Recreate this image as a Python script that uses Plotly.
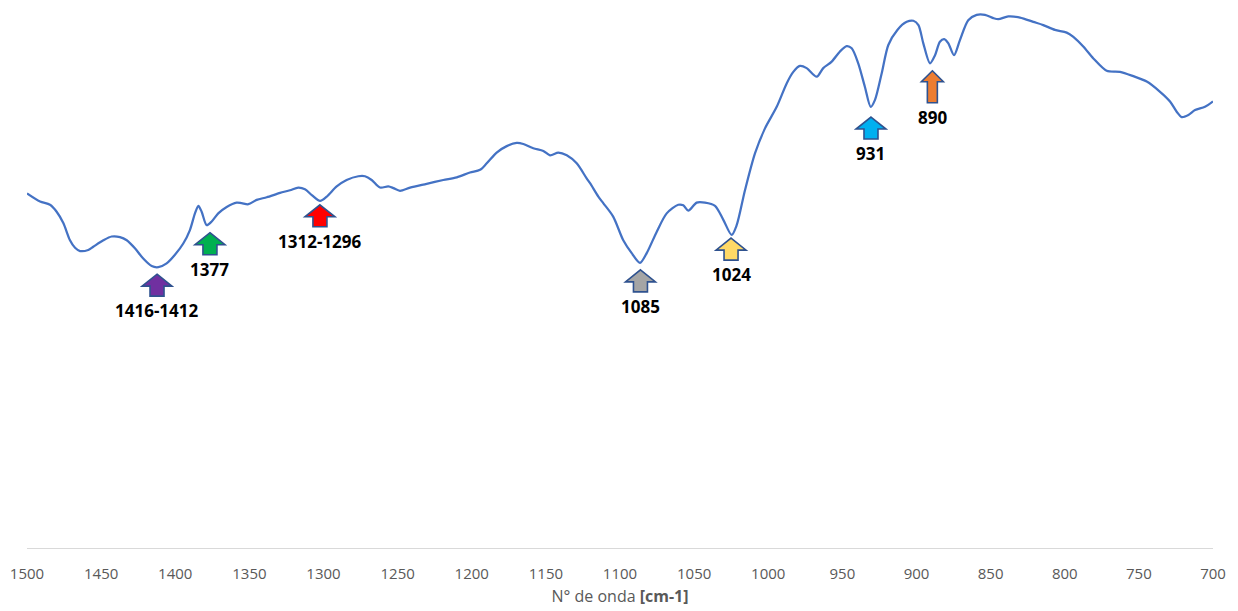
import plotly.graph_objects as go

# FTIR spectrum (wavenumber in cm-1, transmittance in %)
wavenumber = [
    1500, 1491.2, 1484.5, 1480.0, 1475.5, 1471.0, 1467.6, 1464.2, 1458.7, 1455.3,
    1448.5, 1442.9, 1437.3, 1432.7, 1427.2, 1421.6, 1415.9, 1411.4, 1405.8, 1400.2,
    1394.6, 1390.1, 1386.7, 1384.4, 1382.2, 1378.8, 1375.4, 1371.0, 1365.3, 1358.6,
    1355.2, 1350.7, 1345.1, 1338.3, 1329.3, 1322.6, 1317.0, 1312.5, 1307.9, 1302.3,
    1297.8, 1291.1, 1284.4, 1276.5, 1272.0, 1267.5, 1261.9, 1256.3, 1252.9, 1248.4,
    1241.6, 1230.4, 1219.2, 1210.1, 1201.2, 1194.4, 1189.9, 1183.2, 1176.4, 1169.7,
    1165.2, 1158.5, 1151.7, 1147.2, 1141.6, 1135.9, 1129.2, 1122.5, 1120.2, 1114.6,
    1111.3, 1104.6, 1097.8, 1092.1, 1086.5, 1082.0, 1075.2, 1068.5, 1060.7, 1057.3,
    1053.9, 1048.3, 1042.7, 1035.9, 1030.3, 1024.7, 1021.3, 1015.7, 1008.9, 1002.2,
    994.3, 987.5, 983.1, 978.6, 974.1, 967.3, 962.9, 957.2, 951.6, 947.1,
    943.7, 939.3, 934.8, 930.9, 928.0, 923.5, 919.0, 912.9, 906.6, 902.1,
    898.7, 895.4, 890.9, 887.5, 884.2, 881.3, 878.5, 874.7, 870.7, 865.1,
    859.4, 853.8, 848.2, 844.8, 838.1, 830.2, 821.2, 814.5, 806.6, 798.7,
    794.2, 787.5, 780.7, 771.7, 762.7, 753.8, 744.7, 735.7, 729.0, 724.5,
    721.1, 716.6, 712.1, 705.4, 700,
]
transmittance = [
    65.9, 64.4, 63.8, 62.5, 60.4, 57.2, 55.8, 55.2, 55.4, 56.0,
    57.2, 57.9, 57.8, 57.2, 55.7, 53.8, 52.4, 52.2, 52.9, 54.5,
    56.6, 59.1, 62.2, 63.6, 62.5, 60.0, 60.7, 62.2, 63.4, 64.2,
    64.1, 63.9, 64.7, 65.2, 66.0, 66.5, 67.0, 66.7, 65.6, 64.5,
    65.3, 67.2, 68.4, 69.1, 69.1, 68.4, 67.0, 67.2, 66.9, 66.4,
    67.0, 67.7, 68.4, 68.9, 69.8, 70.3, 71.5, 73.5, 74.7, 75.3,
    75.1, 74.3, 73.8, 73.0, 73.5, 73.0, 71.5, 68.7, 67.8, 65.3,
    64.1, 61.6, 57.2, 54.8, 53.0, 54.8, 58.8, 62.2, 63.8, 63.7,
    62.7, 64.2, 64.2, 63.6, 61.0, 58.2, 60.0, 66.5, 73.4, 78.0,
    82.0, 86.4, 88.5, 89.6, 89.2, 87.6, 89.2, 90.4, 92.3, 93.3,
    92.9, 90.1, 85.7, 82.0, 83.3, 88.2, 93.5, 96.3, 97.8, 98.0,
    97.2, 93.8, 90.1, 91.6, 94.1, 94.6, 93.8, 91.6, 94.4, 98.1,
    99.1, 99.1, 98.5, 98.3, 98.8, 98.6, 97.8, 97.2, 96.3, 95.8,
    95.0, 93.2, 91.0, 88.7, 88.5, 87.7, 86.7, 84.8, 83.0, 81.1,
    80.1, 80.5, 81.4, 82.0, 83.0,
]

# Assigned absorption bands, marked with block arrows
peak_labels = ["1416-1412", "1377", "1312-1296", "1085", "1024", "931", "890"]
peak_position = [1412.3, 1376.6, 1302.4, 1086.2, 1025.1, 930.7, 889.3]
arrow_tip = [50.9, 58.6, 63.8, 51.7, 57.6, 80.1, 88.7]
arrow_fill = ["#7030A0", "#00B050", "#FF0000", "#A5A5A5", "#FFD966", "#00B0F0", "#ED7D31"]
arrow_tall = [False, False, False, False, False, False, True]

x_ticks = list(range(1500, 650, -50))

LINE_COLOR = "#4472C4"
OUTLINE = "#2F528F"
TEXT_GRAY = "#595959"

fig = go.Figure()
fig.add_trace(go.Scatter(
    x=wavenumber, y=transmittance, mode="lines",
    line=dict(color=LINE_COLOR, width=2.25, shape="spline", smoothing=0.8),
    hoverinfo="x+y", showlegend=False,
))


def arrow_path(tall):
    # up-pointing block arrow, pixel units relative to its tip (y up)
    if tall:
        hw, hh, sw, h = 11, 11, 5, 32
    else:
        hw, hh, sw, h = 15, 12, 7, 22
    pts = [(0, 0), (hw, -hh), (sw, -hh), (sw, -h), (-sw, -h), (-sw, -hh), (-hw, -hh)]
    return "M " + " L ".join(f"{px},{py}" for px, py in pts) + " Z", h


shapes = []
annotations = []
for lab, xp, yt, col, tall in zip(peak_labels, peak_position, arrow_tip, arrow_fill, arrow_tall):
    path, h = arrow_path(tall)
    shapes.append(dict(
        type="path", path=path, xref="x", yref="y",
        xsizemode="pixel", ysizemode="pixel", xanchor=xp, yanchor=yt,
        fillcolor=col, line=dict(color=OUTLINE, width=1.6), layer="above",
    ))
    annotations.append(dict(
        x=xp, y=yt, xref="x", yref="y", text=f"<b>{lab}</b>", showarrow=False,
        xanchor="center", yanchor="top", yshift=-(h + 1),
        font=dict(family="Open Sans", size=17, color="#000000"),
    ))

fig.update_layout(
    width=1238, height=611,
    margin=dict(l=27, r=25, t=0, b=63),
    paper_bgcolor="white", plot_bgcolor="white",
    shapes=shapes, annotations=annotations,
    font=dict(family="Open Sans", color=TEXT_GRAY),
    xaxis=dict(
        range=[1500, 700], tickvals=x_ticks, ticktext=[str(t) for t in x_ticks],
        showgrid=False, zeroline=False, showline=True, linecolor="#D9D9D9", linewidth=1.3,
        ticks="", ticklabelstandoff=12,
        tickfont=dict(family="Open Sans", size=15, color=TEXT_GRAY),
        title=dict(text="N° de onda <b>[cm-1]</b>", standoff=8,
                   font=dict(family="Open Sans", size=16, color=TEXT_GRAY)),
    ),
    yaxis=dict(range=[0, 101.86], visible=False, showgrid=False, zeroline=False),
)

fig.write_html("out.html")
